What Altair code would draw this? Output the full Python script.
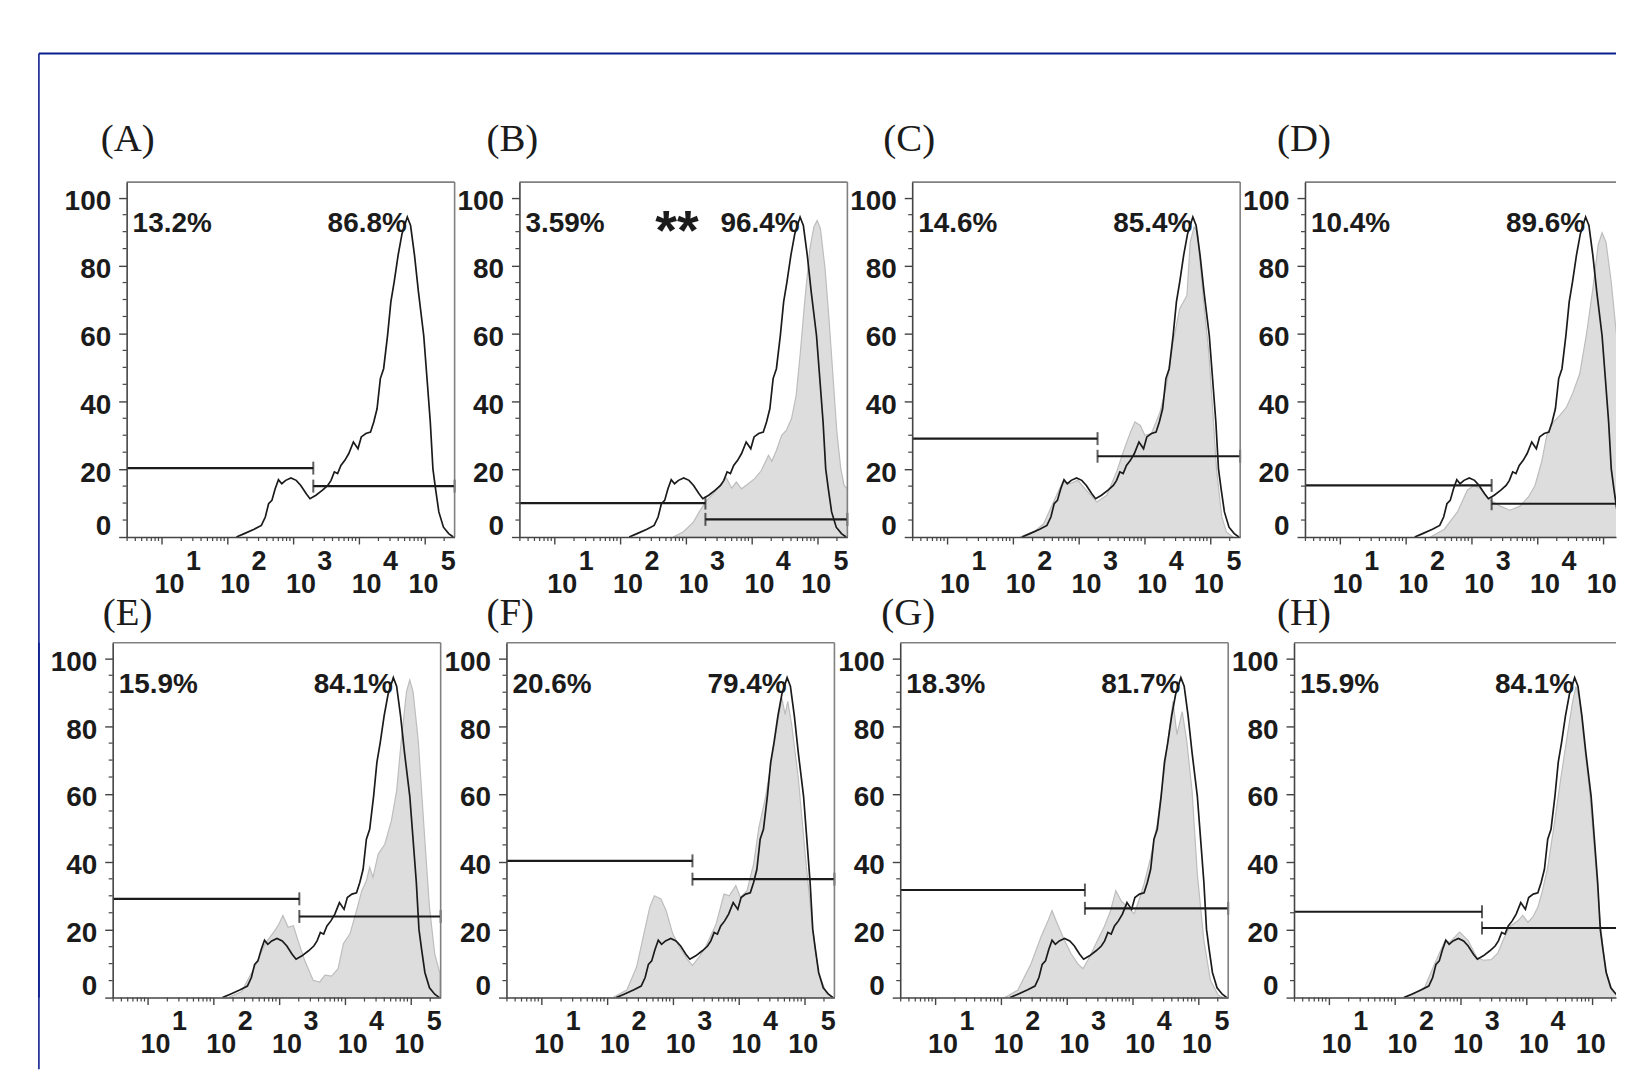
import altair as alt
import pandas as pd

# ---------------- values ----------------
panel_keys = ["A", "B", "C", "D", "E", "F", "G", "H"]
left_pct = ["13.2%", "3.59%", "14.6%", "10.4%", "15.9%", "20.6%", "18.3%", "15.9%"]
right_pct = ["86.8%", "96.4%", "85.4%", "89.6%", "84.1%", "79.4%", "81.7%", "84.1%"]
gate_lo = [20.3, 10.0, 29.0, 15.2, 29.1, 40.3, 31.7, 25.3]
gate_hi = [15.0, 5.2, 23.8, 9.8, 23.9, 34.9, 26.3, 20.5]
gate_cut = [3.31, 3.30, 3.29, 3.31, 3.31, 3.30, 3.28, 3.33]   # log10 intensity

# control histogram (black outline, same in every panel): log10 intensity, % of max
ctrl_log = [2.14, 2.26, 2.41, 2.52, 2.58, 2.63, 2.68, 2.73, 2.78, 2.83,
            2.89, 2.97, 3.05, 3.12, 3.20, 3.26, 3.35, 3.45, 3.53, 3.58,
            3.63, 3.68, 3.73, 3.79, 3.85, 3.92, 3.99, 4.04, 4.11, 4.18,
            4.23, 4.28, 4.33, 4.38, 4.44, 4.49, 4.54, 4.60, 4.66, 4.74,
            4.79, 4.85, 4.91, 4.99, 5.04, 5.09, 5.13, 5.17, 5.22, 5.29,
            5.37, 5.44]
ctrl_val = [0, 1.0, 2.3, 3.4, 5.9, 9.8, 10.8, 14.2, 16.9, 15.7,
            16.7, 17.4, 16.7, 15.2, 12.8, 11.3, 12.3, 13.8, 15.2, 16.7,
            19.2, 18.7, 21.1, 22.6, 24.6, 28.0, 26.0, 29.5, 30.5, 30.9,
            33.9, 37.8, 46.7, 49.6, 59.4, 69.3, 75.1, 83.0, 89.4, 94.3,
            91.8, 83.0, 72.2, 59.4, 46.7, 33.9, 20.1, 14.2, 7.4, 2.9,
            1.0, 0]

# treated samples (grey filled histograms)
b_log = [2.81, 2.96, 3.11, 3.22, 3.32, 3.42, 3.52, 3.62, 3.70, 3.77, 3.85, 3.95,
         4.05, 4.15, 4.26, 4.31, 4.38, 4.46, 4.53, 4.61, 4.68, 4.74, 4.81, 4.89,
         4.95, 5.00, 5.05, 5.12, 5.18, 5.24, 5.30, 5.36, 5.41, 5.46]
b_val = [0, 1.5, 4.2, 7.9, 10.8, 12.8, 15.2, 17.4, 14.4, 16.2, 14.2, 15.7,
         17.2, 19.6, 24.1, 22.3, 25.5, 30.0, 31.4, 34.9, 41.7, 53.5, 69.3, 85.0,
         91.4, 93.3, 90.9, 79.1, 64.3, 47.6, 30.9, 20.1, 15.2, 14.2]

c_log = [2.11, 2.32, 2.47, 2.62, 2.76, 2.87, 2.99, 3.10, 3.28, 3.43, 3.58, 3.68,
         3.79, 3.86, 3.94, 4.01, 4.11, 4.24, 4.34, 4.44, 4.54, 4.65, 4.70, 4.76,
         4.81, 4.90, 4.98, 5.04, 5.10, 5.18, 5.25, 5.35]
c_val = [0, 1.5, 3.9, 10.3, 16.2, 15.7, 16.7, 14.2, 10.3, 12.3, 19.2, 25.0,
         30.9, 33.9, 32.9, 30.0, 30.5, 36.8, 44.7, 57.5, 67.3, 71.2, 86.9, 91.4,
         89.9, 70.0, 55.0, 38.0, 20.0, 6.0, 1.5, 0]

d_log = [2.38, 2.59, 2.79, 2.94, 3.04, 3.14, 3.29, 3.44, 3.59, 3.74, 3.87, 3.97,
         4.07, 4.15, 4.25, 4.35, 4.45, 4.55, 4.65, 4.75, 4.85, 4.93, 4.99, 5.05,
         5.13, 5.20, 5.28]
d_val = [0, 2.3, 7.4, 13.8, 15.2, 14.2, 10.8, 9.1, 7.9, 9.1, 11.8, 15.2,
         22.1, 30.0, 33.9, 35.9, 38.3, 42.7, 48.1, 59.4, 73.2, 86.0, 89.7, 86.9,
         75.1, 61.4, 47.6]

e_log = [2.23, 2.43, 2.63, 2.79, 2.94, 3.00, 3.06, 3.14, 3.22, 3.29, 3.39, 3.52,
         3.62, 3.70, 3.80, 3.90, 3.98, 4.08, 4.18, 4.26, 4.33, 4.38, 4.43, 4.51,
         4.61, 4.71, 4.79, 4.86, 4.94, 4.99, 5.04, 5.12, 5.22, 5.29, 5.37, 5.45]
e_val = [0, 1.7, 9.0, 15.9, 19.8, 21.7, 24.2, 20.7, 21.2, 16.8, 11.0, 5.1,
         4.6, 6.6, 6.3, 8.5, 15.9, 18.8, 25.6, 31.5, 34.4, 38.4, 35.4, 42.3,
         45.2, 52.1, 60.9, 75.5, 90.2, 93.6, 90.2, 75.5, 46.2, 26.6, 12.9, 7.0]

f_log = [2.09, 2.30, 2.45, 2.55, 2.65, 2.72, 2.82, 2.90, 3.00, 3.10, 3.23, 3.30,
         3.40, 3.50, 3.66, 3.78, 3.86, 3.96, 4.03, 4.13, 4.23, 4.31, 4.41, 4.51,
         4.59, 4.66, 4.71, 4.75, 4.81, 4.91, 5.02, 5.12, 5.22, 5.34, 5.44]
f_val = [0, 2.2, 9.0, 17.8, 26.6, 30.0, 29.1, 25.6, 18.8, 14.9, 11.0, 9.5,
         11.9, 14.9, 21.7, 30.5, 30.0, 33.0, 29.5, 31.5, 39.3, 50.1, 58.9, 70.6,
         80.4, 88.3, 83.4, 87.3, 80.4, 64.8, 41.3, 21.7, 7.0, 1.2, 0]

g_log = [2.06, 2.26, 2.46, 2.61, 2.72, 2.78, 2.84, 2.97, 3.07, 3.17, 3.25, 3.35,
         3.47, 3.57, 3.67, 3.75, 3.83, 3.93, 4.03, 4.10, 4.18, 4.28, 4.38, 4.48,
         4.56, 4.62, 4.68, 4.76, 4.83, 4.91, 4.99, 5.09, 5.19, 5.31, 5.39]
g_val = [0, 2.2, 10.0, 17.8, 22.7, 25.6, 22.7, 16.8, 12.9, 10.0, 8.5, 11.9,
         16.8, 20.7, 25.6, 31.5, 28.6, 26.6, 24.7, 28.6, 33.5, 41.3, 51.1, 65.8,
         78.5, 87.3, 77.5, 84.3, 75.5, 60.9, 36.4, 16.8, 5.1, 0.7, 0]

h_log = [2.16, 2.31, 2.46, 2.61, 2.77, 2.84, 2.99, 3.12, 3.25, 3.35, 3.47, 3.57,
         3.67, 3.77, 3.88, 3.95, 4.03, 4.10, 4.18, 4.25, 4.33, 4.43, 4.53, 4.63,
         4.71, 4.76, 4.81, 4.88, 4.96, 5.04, 5.13, 5.21, 5.31, 5.41]
h_val = [0, 1.2, 3.1, 10.0, 16.8, 16.3, 19.3, 16.8, 11.9, 11.0, 11.2, 13.1,
         17.8, 21.2, 22.7, 24.2, 22.2, 23.7, 26.6, 31.5, 38.4, 51.1, 64.8, 77.5,
         87.3, 91.7, 88.3, 76.0, 62.0, 44.0, 22.0, 8.0, 2.2, 0]

gray_curves = {"B": (b_log, b_val), "C": (c_log, c_val), "D": (d_log, d_val),
               "E": (e_log, e_val), "F": (f_log, f_val), "G": (g_log, g_val),
               "H": (h_log, h_val)}

decades = [1, 2, 3, 4, 5]
y_major = [0, 20, 40, 60, 80, 100]
y_minor = [5, 10, 15, 25, 30, 35, 45, 50, 55, 65, 70, 75, 85, 90, 95]

# ---------------- layout / style ----------------
LOG_LO, LOG_HI = 0.47, 5.46
W, H = 329, 356
ROW_GAP = 106
PPD = W / (LOG_HI - LOG_LO)
YMAX = 104.6
INK = "#1b1b1b"
AXC = "#444444"
BORDER = "#808080"
BLUE = "#0b1f8e"
SANS = "Liberation Sans"
SERIF = "Liberation Serif"
FS = 28

one = pd.DataFrame({"k": [0]})


def make_panel(idx, width, letter_dx, letter_dy, show_exp5=True):
    key = panel_keys[idx]
    hi = LOG_LO + width / PPD
    xscale = alt.Scale(type="log", domain=[10 ** LOG_LO, 10 ** hi], nice=False)
    yscale = alt.Scale(domain=[0, YMAX], nice=False, zero=False)
    X = alt.X("x:Q", scale=xscale,
              axis=alt.Axis(values=[10.0 ** d for d in decades if d <= hi], labels=False,
                            tickSize=7, grid=False, title=None, zindex=1))
    Y = alt.Y("y:Q", scale=yscale,
              axis=alt.Axis(values=y_major, tickSize=8, labelPadding=8, labelFlush=1,
                            labelFlushOffset=-1, labelOffset=4, grid=False, title=None,
                            zindex=1))
    layers = []
    if key in gray_curves:
        gl, gv = gray_curves[key]
        gdf = pd.DataFrame({"x": [10 ** v for v in gl], "y": gv})
        layers.append(alt.Chart(gdf).mark_area(fill="#dddddd", stroke="#bdbdbd",
                                               strokeWidth=1.2, clip=True).encode(x=X, y=Y))
    cdf = pd.DataFrame({"x": [10 ** v for v in ctrl_log], "y": ctrl_val})
    layers.append(alt.Chart(cdf).mark_line(color=INK, strokeWidth=1.7, clip=True)
                  .encode(x=X, y=Y))

    # gates
    cut = 10 ** gate_cut[idx]
    gdf2 = pd.DataFrame({"x": [10 ** LOG_LO, cut], "x2": [cut, 10 ** LOG_HI],
                         "y": [gate_lo[idx], gate_hi[idx]]})
    layers.append(alt.Chart(gdf2).mark_rule(color=INK, strokeWidth=2.2, clip=True)
                  .encode(x=X, x2=alt.X2("x2:Q"), y=Y))
    caps = pd.DataFrame({"x": [cut, cut, 10 ** LOG_HI],
                         "y": [gate_lo[idx], gate_hi[idx], gate_hi[idx]]})
    caps = caps[caps["x"] <= 10 ** hi * 1.0001]
    layers.append(alt.Chart(caps).mark_tick(orient="vertical", size=13, thickness=2,
                                            color=INK).encode(x=X, y=Y))

    # minor ticks
    xm = [k * 10 ** n for n in range(0, 6) for k in range(2, 10)]
    xm = [v for v in xm if 10 ** LOG_LO < v < 10 ** hi]
    layers.append(alt.Chart(pd.DataFrame({"x": xm})).mark_rule(color=AXC, strokeWidth=1.2)
                  .encode(x=X, y=alt.value(H), y2=alt.value(H + 4)))
    layers.append(alt.Chart(pd.DataFrame({"y": y_minor})).mark_rule(color=AXC, strokeWidth=1.2)
                  .encode(y=Y, x=alt.value(-4), x2=alt.value(0)))

    # box top / right
    layers.append(alt.Chart(one).mark_rule(color=BORDER, strokeWidth=1.6)
                  .encode(x=alt.value(0), x2=alt.value(width), y=alt.value(0)))
    if width >= W:
        layers.append(alt.Chart(one).mark_rule(color=BORDER, strokeWidth=1.6)
                      .encode(x=alt.value(width), y=alt.value(0), y2=alt.value(H)))

    # decade labels 10^n
    lab = pd.DataFrame({"x": [10.0 ** d for d in decades], "base": ["10"] * len(decades),
                        "exp": [str(d) for d in decades], "d": decades})
    main = lab[lab["d"] < 5]
    last = lab[lab["d"] == 5]
    txt = dict(font=SANS, fontWeight="bold", fontSize=27, color=INK, baseline="middle",
               align="center")
    layers.append(alt.Chart(main).mark_text(dx=8, **txt)
                  .encode(x=X, y=alt.value(H + 48), text="base:N"))
    layers.append(alt.Chart(main).mark_text(dx=32, **txt)
                  .encode(x=X, y=alt.value(H + 25), text="exp:N"))
    layers.append(alt.Chart(last).mark_text(dx=-1, **txt)
                  .encode(x=X, y=alt.value(H + 48), text="base:N"))
    if show_exp5:
        layers.append(alt.Chart(last).mark_text(dx=24, **txt)
                      .encode(x=X, y=alt.value(H + 25), text="exp:N"))

    # percentages
    pct_style = dict(font=SANS, fontWeight="bold", fontSize=FS, color=INK,
                     baseline="alphabetic")
    layers.append(alt.Chart(pd.DataFrame({"t": [left_pct[idx]]}))
                  .mark_text(align="left", **pct_style)
                  .encode(x=alt.value(6), y=alt.value(50), text="t:N"))
    layers.append(alt.Chart(pd.DataFrame({"t": [right_pct[idx]]}))
                  .mark_text(align="right", **pct_style)
                  .encode(x=alt.value(281), y=alt.value(50), text="t:N"))
    if key == "B":
        layers.append(alt.Chart(pd.DataFrame({"t": ["**"]}))
                      .mark_text(align="center", font=SANS, fontWeight="bold", fontSize=56,
                                 color=INK, baseline="alphabetic")
                      .encode(x=alt.value(158), y=alt.value(67), text="t:N"))

    # panel letter
    layers.append(alt.Chart(pd.DataFrame({"t": ["(" + key + ")"]}))
                  .mark_text(align="left", baseline="middle", font=SERIF, fontSize=39,
                             color=INK)
                  .encode(x=alt.value(letter_dx), y=alt.value(letter_dy), text="t:N"))

    return alt.layer(*layers).properties(width=width, height=H)


# spacers carrying the blue frame
S1 = alt.layer(
    alt.Chart(one).mark_rule(color=BLUE, strokeWidth=2.2)
    .encode(x=alt.value(0), x2=alt.value(1582), y=alt.value(-129)),
    alt.Chart(one).mark_rule(color=BLUE, strokeWidth=1.6)
    .encode(x=alt.value(0), y=alt.value(-129), y2=alt.value(890)),
).properties(width=23, height=H)
S2 = alt.Chart(one).mark_rule(color=BLUE, strokeWidth=1.6).encode(
    x=alt.value(0), y=alt.value(0), y2=alt.value(H)).properties(width=8, height=H)

row1 = alt.hconcat(
    S1,
    make_panel(0, W, -26, -43),
    make_panel(1, W, -33, -43),
    make_panel(2, W, -29, -43),
    make_panel(3, 312, -28, -43, show_exp5=False),
    spacing=65, bounds="flush")
row2 = alt.hconcat(
    S2,
    make_panel(4, W, -10, -30),
    make_panel(5, W, -20, -30),
    make_panel(6, W, -19, -30),
    make_panel(7, 323, -17, -30, show_exp5=False),
    spacing=66, bounds="flush")

# nested concat groups have no intrinsic height under flush bounds,
# so the row pitch is carried by the spacing
chart = alt.vconcat(row1, row2, spacing=H + ROW_GAP, bounds="flush").properties(
    padding={"left": 29, "top": 42, "right": 0, "bottom": 0}
).configure_view(stroke=None).configure_axis(
    domainColor=AXC, domainWidth=1.6, tickColor=AXC, tickWidth=1.4,
    labelColor=INK, labelFont=SANS, labelFontWeight="bold", labelFontSize=28
)

chart.save("out.html", embed_options={"renderer": "svg", "actions": False})
